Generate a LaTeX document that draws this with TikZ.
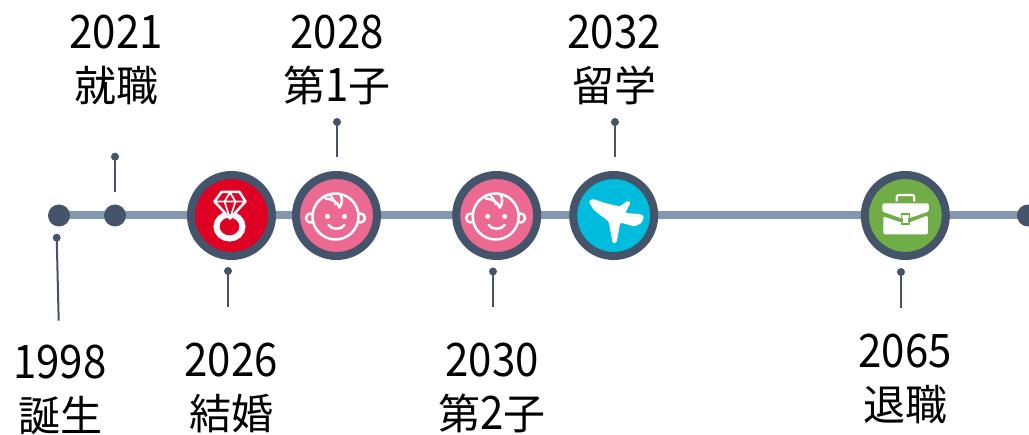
\documentclass[tikz,border=0pt]{standalone}
\usepackage{fontspec}
\usepackage{graphicx}
\usetikzlibrary{backgrounds}
\setmainfont{Noto Sans CJK JP}
\newcommand{\dg}[1]{\scalebox{1}[1.1]{#1}}
\definecolor{ringc}{HTML}{44546A}
\definecolor{barc}{HTML}{8497B0}
\definecolor{redc}{HTML}{DF0024}
\definecolor{pinkc}{HTML}{EC6A91}
\definecolor{bluec}{HTML}{00BCDD}
\definecolor{greenc}{HTML}{70AD47}
\tikzset{
  bar/.style={draw=barc,line width=8pt},
  bigdot/.style={circle,fill=ringc,minimum size=22pt,inner sep=0pt},
  tipdot/.style={circle,fill=ringc,minimum size=8pt,inner sep=0pt},
  leader/.style={draw=ringc,line width=2pt},
  ringnode/.style={circle,draw=ringc,line width=8pt,fill=#1,minimum size=81pt,inner sep=0pt},
  lab/.style={align=center,font=\fontsize{42}{53}\selectfont,inner sep=0pt,text=black},
  icon/.style={draw=white,line width=2.5pt,line join=round,line cap=round},
  babyicon/.pic={
    \draw[icon,fill=pinkc] (-26,2.5) circle (4.5);
    \draw[icon,fill=pinkc] (24,2.5) circle (4.5);
    \draw[icon,fill=pinkc] (-1,1) circle (23);
    \fill[white] (-9,1) circle (2.5);
    \fill[white] (8,1) circle (2.5);
    \draw[icon] (-8,9.5) .. controls (-5,14.5) and (5,14.5) .. (8,9.5);
    \draw[icon] (-11,-17) .. controls (-5,-17) and (2,-13) .. (3,-8) .. controls (6,-12) and (6,-17) .. (4,-21);
    \draw[icon,line width=1.8pt] (-9,-21) .. controls (-4,-20) and (-2,-15) .. (-1,-11);
  },
  ringicon/.pic={
    \draw[white,line width=6pt] (-2,11) ellipse (13 and 12);
    \draw[icon,fill=redc] (-17,-14) -- (-10,-23.5) -- (8,-23.5) -- (14,-14) -- (-1.5,3) -- cycle;
    \draw[icon,line width=1.7pt] (-17,-14) -- (14,-14) (-7,-14) -- (-1.5,-23) -- (4,-14) -- (-1.5,3) -- (-7,-14);
  },
  planeicon/.pic={
    \fill[white,rounded corners=1.5pt] (-25,-14) -- (-22,-16.5) -- (-17,-15.5) -- (-9,-12.5) -- (6,-9) -- (14.5,-15) -- (17,-13) -- (11.5,-2.5) -- (26,-1.5) -- (30.5,0.5) -- (28,7.5) -- (21,11) -- (6.5,7) -- (3,27) -- (-1,28) -- (-5,6) -- (-20,-5.5) -- cycle;
  },
  caseicon/.pic={
    \draw[draw=white,line width=2.2pt,rounded corners=2pt] (-8.5,-14) -- (-8.5,-20.5) -- (9,-20.5) -- (9,-14);
    \fill[white,rounded corners=1.5pt] (-23,-12) -- (23.5,-12) -- (23.5,-4) -- (3,3) -- (-3.5,3) -- (-23,-4) -- cycle;
    \fill[white,rounded corners=1.5pt] (-22,1) -- (-4,7) -- (4,7) -- (22.5,0) -- (22.5,19) -- (-22,19) -- cycle;
    \draw[draw=greenc,line width=1.2pt] (-3.5,-1.5) rectangle (4,8.5);
    \fill[white] (-2.5,-0.5) rectangle (3,7.5);
  }
}
\begin{document}
\begin{tikzpicture}[x=1pt,y=-1pt]
\path[use as bounding box] (0,0) rectangle (1029,435);
% timeline end points and rings
\node[bigdot] (d1) at (59,215.5) {};
\node[bigdot] (d2) at (115,215.5) {};
\node[bigdot] (d3) at (1028,215.5) {};
\node[ringnode=redc] (r1) at (231.5,215.5) {};
\node[ringnode=pinkc] (r2) at (336.5,215.5) {};
\node[ringnode=pinkc] (r3) at (496.7,215.5) {};
\node[ringnode=bluec] (r4) at (613.7,215.5) {};
\node[ringnode=greenc] (r5) at (905.3,215.5) {};
\begin{pgfonlayer}{background}
\fill[white] (0,0) rectangle (1029,435);
\draw[bar] (d1.center) -- (d3.center);
\end{pgfonlayer}
\pic at (r1) {ringicon};
\pic at (r2) {babyicon};
\pic at (r3) {babyicon};
\pic at (r4) {planeicon};
\pic at (r5) {caseicon};
% leaders
\node[tipdot] (t1) at (56.7,237.7) {};
\coordinate (e1) at (58.7,320.7);
\draw[leader] (t1.center) -- (e1);
\node[tipdot] (t2) at (115,156.7) {};
\coordinate (e2) at (115,192);
\draw[leader] (t2.center) -- (e2);
\node[tipdot] (t3) at (228,271) {};
\coordinate (e3) at (228,307);
\draw[leader] (t3.center) -- (e3);
\node[tipdot] (t4) at (337,122) {};
\coordinate (e4) at (337,157);
\draw[leader] (t4.center) -- (e4);
\node[tipdot] (t5) at (493,271.5) {};
\coordinate (e5) at (493,307);
\draw[leader] (t5.center) -- (e5);
\node[tipdot] (t6) at (615,122) {};
\coordinate (e6) at (615,157);
\draw[leader] (t6.center) -- (e6);
\node[tipdot] (t7) at (901,272) {};
\coordinate (e7) at (901,308);
\draw[leader] (t7.center) -- (e7);
% labels
\node[lab] (l1) at (60,390) {\dg{1998}\\誕生};
\node[lab] (l2) at (116,60) {\dg{2021}\\就職};
\node[lab] (l3) at (231,388) {\dg{2026}\\結婚};
\node[lab] (l4) at (337,60) {\dg{2028}\\第\dg{1}子};
\node[lab] (l5) at (492,388) {\dg{2030}\\第\dg{2}子};
\node[lab] (l6) at (614,60) {\dg{2032}\\留学};
\node[lab] (l7) at (905,379) {\dg{2065}\\退職};
\end{tikzpicture}
\end{document}
